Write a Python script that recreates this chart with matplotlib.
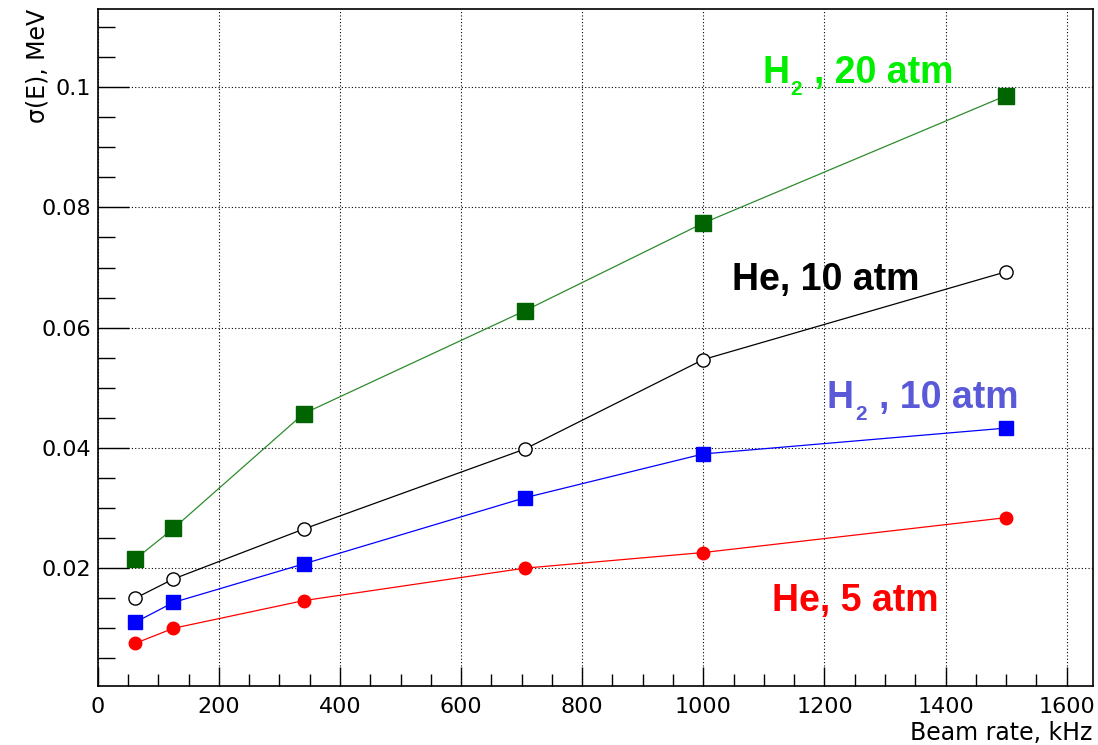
import matplotlib
matplotlib.use("Agg")
import matplotlib.pyplot as plt
from matplotlib.ticker import MultipleLocator

# beam rate, kHz
rate = [62, 125, 340, 705, 1000, 1500]

# energy resolution sigma(E), MeV
h2_20atm = [0.0215, 0.0266, 0.0457, 0.0628, 0.0774, 0.0986]
he_10atm = [0.0150, 0.0182, 0.0265, 0.0398, 0.0547, 0.0693]
h2_10atm = [0.0110, 0.0143, 0.0207, 0.0317, 0.0390, 0.0433]
he_5atm = [0.0075, 0.0100, 0.0146, 0.0200, 0.0226, 0.0284]

fig = plt.figure(figsize=(10.98, 7.45), dpi=100)
ax = fig.add_axes([0.089, 0.0792, 0.9062, 0.9087])

ax.plot(rate, h2_20atm, color='#2e8b2e', lw=0.9, marker='s', ms=11,
        mfc='#006400', mec='#006400', zorder=3)
ax.plot(rate, he_10atm, color='black', lw=0.9, marker='o', ms=9.5,
        mfc='white', mec='black', mew=1.0, zorder=3)
ax.plot(rate, h2_10atm, color='#0000ff', lw=0.9, marker='s', ms=10.5,
        mfc='#0000ff', mec='#0000ff', zorder=3)
ax.plot(rate, he_5atm, color='#ff0000', lw=0.9, marker='o', ms=9,
        mfc='#ff0000', mec='#ff0000', zorder=3)

lbl = dict(fontsize=27, fontweight='bold', family='Liberation Sans',
           ha='left', va='baseline')


def h2_label(x, y, rest, color):
    # H with a deep subscript 2, then the rest of the label
    ax.text(x, y, 'H', color=color, **lbl)
    ax.annotate('2', xy=(x, y), xytext=(28, -12), textcoords='offset pixels',
                color=color, fontsize=15, fontweight='bold',
                family='Liberation Sans', ha='left', va='baseline')
    ax.annotate(rest, xy=(x, y), xytext=(52, 0), textcoords='offset pixels',
                color=color, **lbl)


h2_label(1097, 0.1007, ', 20 atm', '#00ee00')
ax.text(1047, 0.0663, 'He, 10 atm', color='black', **lbl)
h2_label(1204, 0.0466, ', 10 atm', '#5a5ad8')
ax.text(1113, 0.0128, 'He, 5 atm', color='#ff0000', **lbl)

ax.set_xlim(0, 1643)
ax.set_ylim(0.0004, 0.113)
ax.xaxis.set_major_locator(MultipleLocator(200))
ax.xaxis.set_minor_locator(MultipleLocator(50))
ax.yaxis.set_major_locator(MultipleLocator(0.02))
ax.yaxis.set_minor_locator(MultipleLocator(0.005))
ax.yaxis.set_major_formatter(plt.FuncFormatter(lambda v, p: ('%g' % v)))

ax.grid(True, which='major', color='black', ls=(0, (1, 2)), lw=0.8)
ax.tick_params(which='both', direction='in', width=1.0, labelsize=16, color='black')
ax.tick_params(axis='x', which='major', length=14, pad=8)
ax.tick_params(axis='x', which='minor', length=8.5)
ax.tick_params(axis='y', which='major', length=22, pad=5)
ax.tick_params(axis='y', which='minor', length=12)
for s in ax.spines.values():
    s.set_linewidth(1.2)

ax.text(1.0, -0.069, 'Beam rate, kHz', transform=ax.transAxes,
        ha='right', va='center', fontsize=17)
ax.text(-0.061, 1.0, 'σ(E), MeV', transform=ax.transAxes,
        ha='center', va='top', rotation=90, fontsize=17)

fig.savefig('out.png', dpi=100)
